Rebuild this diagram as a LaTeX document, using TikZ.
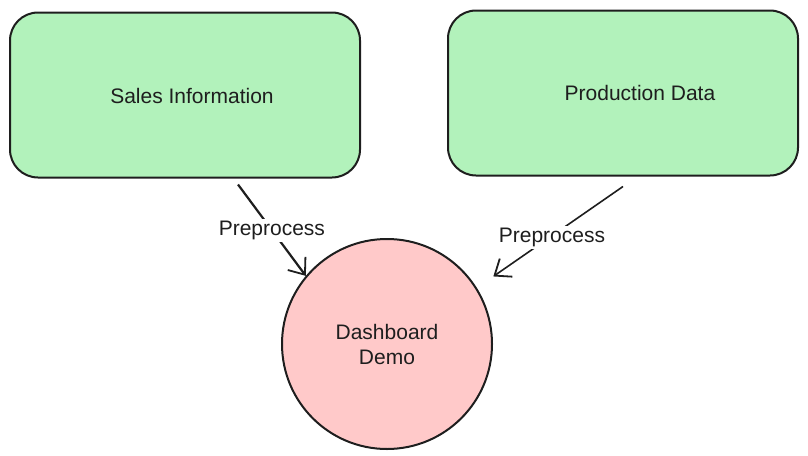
\documentclass[tikz,border=0pt]{standalone}
\usepackage{fontspec}
\setmainfont{Liberation Sans}
\usetikzlibrary{arrows.meta}
\definecolor{inkline}{HTML}{1E1E1E}
\definecolor{boxgreen}{HTML}{B2F2BB}
\definecolor{circpink}{HTML}{FFC9C9}
\begin{document}
\begin{tikzpicture}[x=1pt, y=-1pt,
    every node/.style={font=\fontsize{21}{25}\selectfont, text=inkline},
    source/.style={draw=inkline, line width=2pt, fill=boxgreen, rounded corners=28pt,
      minimum width=350pt, minimum height=165pt, inner sep=0pt},
    sink/.style={draw=inkline, line width=2pt, fill=circpink, circle,
      minimum size=210pt, inner sep=0pt, align=center},
    flow/.style={draw=inkline, -{Straight Barb[length=14pt, width=22pt, line width=1.8pt]}},
    flowlabel/.style={midway, fill=white, inner sep=2pt}]
  \useasboundingbox (0,0) rectangle (808,455);

  % Data sources
  \node[source] (sales) at (185,95) {};
  \node[source] (prod) at (623,93) {};
  \node (salestext) at (192,96) {Sales Information};
  \node (prodtext) at (640,93) {Production Data};

  % Dashboard
  \node[sink] (dash) at (387,344) {Dashboard\\Demo};

  % Preprocessing steps
  \draw[flow, line width=2.2pt] ([shift={(53pt,-6pt)}]sales.south) -- (dash.140)
    node[flowlabel] (prepa) {Preprocess};
  \draw[flow, line width=1.6pt, shorten >=20pt] ([yshift=-10pt]prod.south) -- (dash.32)
    node[flowlabel, xshift=2pt] (prepb) {Preprocess};
\end{tikzpicture}
\end{document}
